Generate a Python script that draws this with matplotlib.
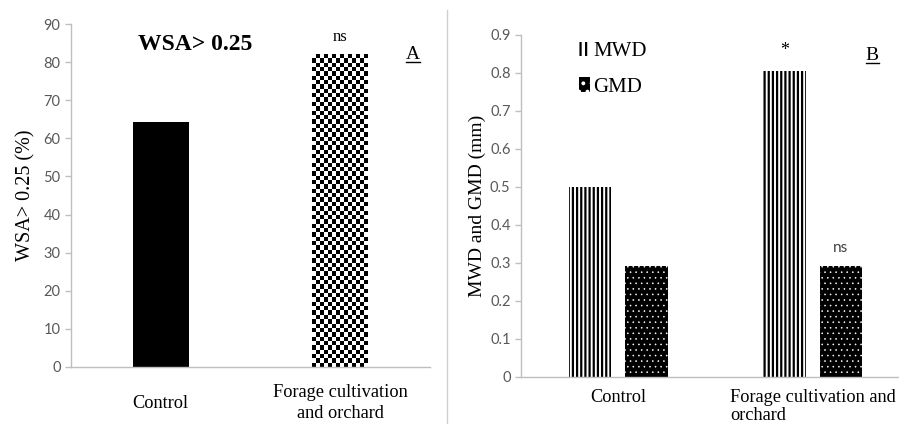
import numpy as np
import matplotlib
matplotlib.use('Agg')
import matplotlib.pyplot as plt
from matplotlib.lines import Line2D
from matplotlib.patches import Patch

# data
categories = ['Control', 'Forage cultivation\nand orchard']
categories_b = ['Control', 'Forage cultivation and\norchard']
wsa = [64.3, 82.0]
mwd = [0.50, 0.805]
gmd = [0.292, 0.292]
wsa_ticks = list(range(0, 91, 10))
mm_ticks = [0, 0.1, 0.2, 0.3, 0.4, 0.5, 0.6, 0.7, 0.8, 0.9]

SERIF = 'Liberation Serif'
SANS = 'Lato'
GRAY = '#595959'
SPINE = '#bfbfbf'

plt.rcParams['hatch.linewidth'] = 1.6

fig = plt.figure(figsize=(8.99, 4.24), dpi=100)


def style_axes(ax, linespacing):
    for s in ['top', 'right']:
        ax.spines[s].set_visible(False)
    for s in ['left', 'bottom']:
        ax.spines[s].set_color(SPINE)
        ax.spines[s].set_linewidth(1.0)
    ax.tick_params(axis='y', colors=SPINE, labelcolor=GRAY, length=4, width=1.0,
                   labelsize=10.5)
    ax.tick_params(axis='x', length=0)
    for lab in ax.get_yticklabels():
        lab.set_fontfamily(SANS)
    for lab in ax.get_xticklabels():
        lab.set_fontfamily(SERIF)
        lab.set_fontsize(13.2)
        lab.set_linespacing(linespacing)


def underline(txt):
    # draw a short line under a text after layout
    fig.canvas.draw()
    bb = txt.get_window_extent()
    inv = fig.transFigure.inverted()
    (x0, y0), (x1, _) = inv.transform([(bb.x0, bb.y0 + 1), (bb.x1, bb.y0)])
    fig.add_artist(Line2D([x0, x1], [y0, y0], color='black', lw=1.0))


# ---------- panel A ----------
axa = fig.add_axes([71 / 899, 57 / 424, 359 / 899, 343 / 424])
x = np.arange(len(categories))
bars = axa.bar(x, wsa, width=0.31, color=['black', 'white'], edgecolor='none')

# checkerboard texture for second bar
b = bars[1]
bx, by = b.get_x(), b.get_y()
bw, bh = b.get_width(), b.get_height()
nx, ny = 14, 72
checker = (np.add.outer(np.arange(ny), np.arange(nx)) % 2).astype(float)
im = axa.imshow(checker, cmap='gray', extent=[bx, bx + bw, by, by + bh],
                aspect='auto', interpolation='nearest', zorder=2, origin='lower')
im.set_clip_path(b)

axa.set_xlim(-0.5, 1.5)
axa.set_ylim(0, 90)
axa.set_yticks(wsa_ticks)
axa.set_xticks(x)
axa.set_xticklabels(categories)
axa.set_ylabel('WSA> 0.25 (%)', fontfamily=SERIF, fontsize=14.5, color='black', labelpad=6)
style_axes(axa, 1.25)
axa.tick_params(axis='x', pad=26)
for lab in axa.get_xticklabels():
    lab.set_verticalalignment('center')

axa.text(0.19, 84.5, 'WSA> 0.25', fontfamily=SERIF, fontsize=17, fontweight='bold',
         ha='center', va='center')
axa.text(1, 86.6, 'ns', fontfamily=SERIF, fontsize=12, ha='center', va='center')
ta = axa.text(1.405, 82.0, 'A', fontfamily=SERIF, fontsize=14, ha='center', va='center')

# separator line between panels
fig.add_artist(Line2D([447 / 899, 447 / 899], [0, 414 / 424], color='#cfcfcf', lw=1.0))

# ---------- panel B ----------
axb = fig.add_axes([521 / 899, 47 / 424, 389 / 899, 342 / 424])
xb = np.arange(len(categories_b))
w = 0.22
off = 0.145
axb.bar(xb - off, mwd, width=w, color='white', edgecolor='black', hatch='||||',
        linewidth=0, label='MWD')
gbars = axb.bar(xb + off, gmd, width=w, color='black', edgecolor='white', hatch='...',
                linewidth=0, label='GMD')
for p in gbars:
    if hasattr(p, 'set_hatch_linewidth'):
        p.set_hatch_linewidth(0.4)
axb.set_xlim(-0.5, 1.5)
axb.set_ylim(0, 0.9)
axb.set_yticks(mm_ticks)
axb.set_yticklabels(['0' if t == 0 else f'{t:g}' for t in mm_ticks])
axb.set_xticks(xb)
axb.set_xticklabels(categories_b)
axb.set_ylabel('MWD and GMD (mm)', fontfamily=SERIF, fontsize=14, color='black', labelpad=3)
style_axes(axb, 1.1)
axb.tick_params(axis='x', pad=8.5)
axb.get_xticklabels()[1].set_multialignment('left')

h1 = Patch(facecolor='white', edgecolor='black', hatch='|||', linewidth=0)
h2 = Patch(facecolor='black', edgecolor='white', hatch='..', linewidth=0)
if hasattr(h2, 'set_hatch_linewidth'):
    h2.set_hatch_linewidth(0.4)
leg = axb.legend([h1, h2], ['MWD', 'GMD'], loc='upper left', bbox_to_anchor=(0.1, 1.035),
                 frameon=False, handlelength=0.55, handleheight=0.7, handletextpad=0.15,
                 labelspacing=0.75, prop={'family': SERIF, 'size': 15})

axb.text(1 - off, 0.86, '*', fontfamily=SERIF, fontsize=13, ha='center', va='center')
axb.text(1 + off, 0.339, 'ns', fontfamily=SANS, fontsize=11, ha='center', va='center',
         color='#404040')
tb = axb.text(1.305, 0.847, 'B', fontfamily=SERIF, fontsize=14, ha='center', va='center')

underline(ta)
underline(tb)

fig.savefig('out.png', dpi=100)
